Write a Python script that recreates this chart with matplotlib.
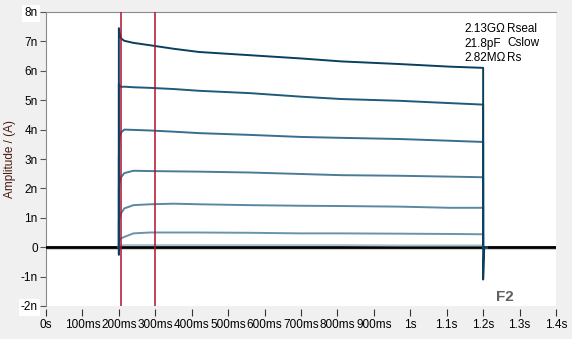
import matplotlib
matplotlib.use("Agg")
import matplotlib.pyplot as plt

t_on = [0.2, 0.202, 0.206, 0.215, 0.24, 0.285, 0.35, 0.42, 0.56, 0.70, 0.81, 0.97, 1.11, 1.2]

# current traces in nA, one per voltage step
trace1 = [7.45, 7.30, 7.10, 7.02, 6.95, 6.87, 6.75, 6.64, 6.53, 6.42, 6.32, 6.23, 6.14, 6.10]
trace2 = [5.55, 5.50, 5.45, 5.46, 5.44, 5.42, 5.38, 5.32, 5.24, 5.12, 5.04, 4.98, 4.90, 4.85]
trace3 = [3.10, 3.75, 3.90, 4.00, 3.99, 3.97, 3.93, 3.88, 3.82, 3.75, 3.72, 3.68, 3.62, 3.58]
trace4 = [2.00, 2.20, 2.38, 2.52, 2.60, 2.59, 2.58, 2.57, 2.54, 2.49, 2.45, 2.43, 2.40, 2.38]
trace5 = [0.90, 1.00, 1.15, 1.32, 1.43, 1.46, 1.48, 1.46, 1.43, 1.41, 1.40, 1.38, 1.34, 1.34]
trace6 = [0.15, 0.26, 0.30, 0.35, 0.47, 0.50, 0.50, 0.50, 0.49, 0.47, 0.47, 0.46, 0.45, 0.44]
trace7 = [0.06, 0.06, 0.07, 0.07, 0.07, 0.07, 0.07, 0.07, 0.07, 0.07, 0.07, 0.06, 0.06, 0.06]
traces = [trace1, trace2, trace3, trace4, trace5, trace6, trace7]
colors = ['#0a3f5e', '#1f5a7a', '#3a6e8e', '#4a7c98', '#5a88a2', '#6a94ab', '#a9bfcc']
# onset dip and tail dip at the step edges (nA)
onset_dip = [-0.25, 0, 0, 0, 0, 0, 0]
tail_dip = [-1.1, 0, 0, 0, 0, 0, 0]

cursors = [0.206, 0.299]

xticks = [0, 0.1, 0.2, 0.3, 0.4, 0.5, 0.6, 0.7, 0.8, 0.9, 1.0, 1.1, 1.2, 1.3, 1.4]
xlabels = ['0s', '100ms', '200ms', '300ms', '400ms', '500ms', '600ms', '700ms',
           '800ms', '900ms', '1s', '1.1s', '1.2s', '1.3s', '1.4s']
yticks = [-2, -1, 0, 1, 2, 3, 4, 5, 6, 7, 8]
ylabels = ['-2n', '-1n', '0', '1n', '2n', '3n', '4n', '5n', '6n', '7n', '8n']

params = [('2.13GΩ', 'Rseal'), ('21.8pF', 'Cslow'), ('2.82MΩ', 'Rs')]

plt.rcParams['font.family'] = ['Liberation Sans', 'DejaVu Sans']
plt.rcParams['font.size'] = 8.5

fig = plt.figure(figsize=(5.72, 3.39), dpi=100, facecolor='#f0f0f0')
ax = fig.add_axes([46/572, 1 - 306/339, 510/572, 294/339])
ax.set_facecolor('white')

# baseline trace and its grey shadow
ax.plot([0, 1.4], [-0.02, -0.02], color='#cfcfcf', lw=3, zorder=2)
ax.plot([0, 1.4], [0, 0], color='black', lw=2, zorder=3)

# draw smallest traces first so the large ones sit on top
for vals, col, d0, d1 in reversed(list(zip(traces, colors, onset_dip, tail_dip))):
    xs = [0.2, 0.2] + t_on + [1.2, 1.203, 1.21]
    ys = [0, d0] + vals + [d1, 0, 0]
    ax.plot(xs, ys, color=col, lw=1.4, zorder=4)

for c in cursors:
    ax.axvline(c, color='#b01030', lw=1.1, zorder=5)

ax.set_xlim(0, 1.4)
ax.set_ylim(-2, 8)
ax.set_xticks(xticks)
ax.set_xticklabels(xlabels)
ax.set_yticks(yticks)
ax.set_yticklabels(ylabels)
for lab in ax.get_yticklabels():
    if lab.get_text() in ('8n', '-2n'):
        lab.set_bbox(dict(facecolor='white', edgecolor='none', pad=1.5))

ax.spines['right'].set_visible(False)
ax.spines['bottom'].set_visible(False)
ax.spines['bottom'].set_position(('outward', 2))
ax.spines['left'].set_color('#8a8a8a')
ax.spines['top'].set_color('#8a8a8a')
ax.tick_params(axis='y', length=4, color='#555555', pad=2)
ax.tick_params(axis='x', length=5, color='#333333', pad=2, direction='out')

ax.set_ylabel('Amplitude / (A)', color='#4a1a10', labelpad=3)

for i, (v, name) in enumerate(params):
    y = 1 - (29 + 14.5 * i) / 339
    fig.text(464/572, y, v, ha='left', va='center', fontsize=8.5)
    fig.text(507/572, y, name, ha='left', va='center', fontsize=8.5)

fig.text(505/572, 1 - 297/339, 'F2', ha='center', va='center', fontsize=11,
         fontweight='bold', color='#606060')

fig.savefig('out.png', dpi=100, facecolor=fig.get_facecolor())
